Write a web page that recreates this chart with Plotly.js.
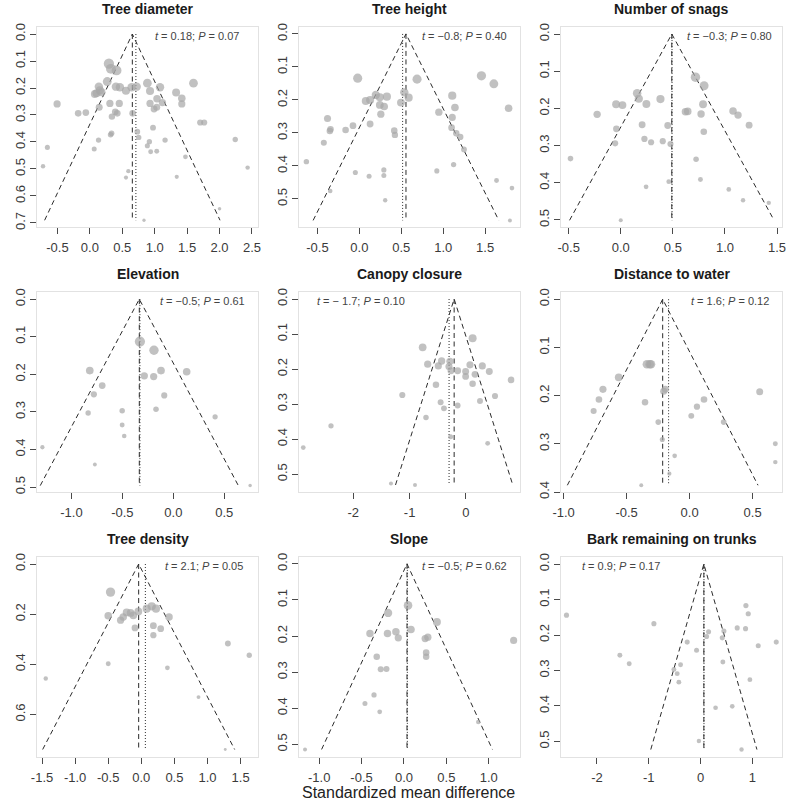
<!DOCTYPE html>
<html>
<head>
<meta charset="utf-8">
<script src="https://cdn.plot.ly/plotly-3.0.1.min.js"></script>
<style>
  html, body { margin: 0; padding: 0; background: #fff; }
  #chart { width: 787px; height: 803px; }
</style>
</head>
<body>
<div id="chart"></div>
<script>
// ---- Study-level effect sizes (standardized mean difference) and standard errors ----
const treeDiameterSMD = [0.294, 0.325, 0.412, 0.268, 0.402, 0.464, 0.557, 0.644, 0.722, 0.887, 1.082, 0.928, 1.036, 1.031, 0.990, 1.119, 1.330, 1.418, 1.418, 1.598, 1.701, 1.763, 0.928, 0.139, 0.103, 0.180, 0.077, 0.155, 0.309, 0.454, 0.144, 0.392, 0.423, 0.340, 0.335, 0.320, -0.180, -0.062, -0.505, 0.660, 0.974, 0.732, 0.753, 0.134, 0.067, -0.655, 0.918, 0.887, 0.938, 1.031, 1.160, 1.474, 2.242, 2.433, -0.722, 0.593, 0.557, 1.340, 2.000, 0.835];
const treeDiameterSE  = [0.110, 0.129, 0.135, 0.176, 0.195, 0.197, 0.210, 0.197, 0.195, 0.182, 0.197, 0.211, 0.240, 0.271, 0.278, 0.254, 0.217, 0.238, 0.259, 0.182, 0.328, 0.328, 0.257, 0.195, 0.219, 0.216, 0.222, 0.209, 0.257, 0.257, 0.271, 0.288, 0.294, 0.306, 0.368, 0.373, 0.294, 0.291, 0.259, 0.294, 0.347, 0.362, 0.383, 0.393, 0.426, 0.420, 0.399, 0.414, 0.436, 0.434, 0.393, 0.455, 0.391, 0.495, 0.490, 0.508, 0.532, 0.529, 0.647, 0.690];

const treeHeightSMD = [-0.020, 1.456, 1.604, 1.780, 0.688, 0.076, 0.128, 0.196, 0.244, 0.328, 0.244, 0.296, 0.256, 0.128, -0.076, -0.164, -0.344, -0.352, -0.380, -0.424, 0.416, 0.424, 0.536, 0.588, 0.496, 0.948, 1.108, 1.140, 1.108, 1.100, 1.156, 1.204, 1.248, -0.632, -0.048, 0.116, 0.292, 0.292, -0.348, 0.308, 0.924, 1.124, 1.636, 1.820, 1.796];
const treeHeightSE  = [0.134, 0.127, 0.151, 0.225, 0.137, 0.203, 0.200, 0.185, 0.192, 0.190, 0.215, 0.220, 0.243, 0.273, 0.278, 0.291, 0.289, 0.294, 0.256, 0.330, 0.293, 0.306, 0.177, 0.193, 0.208, 0.237, 0.187, 0.223, 0.253, 0.284, 0.301, 0.312, 0.350, 0.387, 0.420, 0.431, 0.412, 0.429, 0.476, 0.504, 0.415, 0.396, 0.444, 0.467, 0.565];

const snagsSMD = [0.717, 0.800, 0.157, 0.173, 0.381, -0.045, 0.016, 0.246, -0.227, 0.621, 0.643, 0.790, 0.771, 1.078, 1.126, 1.232, 0.205, 0.451, -0.042, 0.797, -0.054, 0.227, 0.291, 0.403, 0.477, -0.483, 0.723, 0.765, 0.461, 0.243, 1.037, 1.174, 1.421, 0.000];
const snagsSE  = [0.116, 0.139, 0.159, 0.174, 0.175, 0.189, 0.191, 0.188, 0.216, 0.209, 0.208, 0.189, 0.215, 0.207, 0.218, 0.245, 0.244, 0.246, 0.255, 0.263, 0.294, 0.282, 0.291, 0.288, 0.296, 0.335, 0.337, 0.391, 0.397, 0.411, 0.418, 0.447, 0.454, 0.501];

const elevationSMD = [-0.328, -0.190, -0.820, -0.121, 0.131, -0.285, -0.193, -0.698, -0.780, -0.089, -0.836, -0.502, -0.170, -0.502, -0.482, 0.410, -1.285, -0.770, 0.754];
const elevationSE  = [0.113, 0.136, 0.190, 0.190, 0.193, 0.204, 0.206, 0.230, 0.253, 0.256, 0.303, 0.297, 0.293, 0.335, 0.364, 0.313, 0.394, 0.440, 0.496];

const canopySMD = [-0.769, 0.118, -0.680, -0.491, -0.432, -0.284, -0.302, -0.266, -0.148, -0.006, 0.071, -0.006, 0.160, 0.290, 0.414, 0.799, -0.533, 0.118, -1.130, 0.515, 0.249, -0.450, -0.391, -0.148, -0.710, -2.396, -0.272, 0.385, -2.888, -1.331, -0.905];
const canopySE  = [0.138, 0.112, 0.186, 0.191, 0.177, 0.178, 0.193, 0.205, 0.205, 0.207, 0.188, 0.221, 0.215, 0.191, 0.207, 0.231, 0.245, 0.242, 0.274, 0.277, 0.291, 0.295, 0.312, 0.304, 0.338, 0.362, 0.393, 0.412, 0.424, 0.527, 0.531];

const waterSMD = [-0.339, -0.317, -0.307, -0.563, -0.688, -0.720, -0.762, -0.354, -0.206, -0.193, -0.249, -0.217, -0.119, -0.161, -0.384, 0.013, 0.058, 0.114, 0.270, 0.556, 0.680, 0.680];
const waterSE  = [0.135, 0.135, 0.135, 0.162, 0.187, 0.208, 0.232, 0.214, 0.191, 0.187, 0.255, 0.291, 0.325, 0.362, 0.386, 0.242, 0.223, 0.208, 0.255, 0.192, 0.300, 0.338];

const densitySMD = [-0.465, -0.500, -0.313, -0.273, -0.222, -0.162, -0.121, -0.045, 0.081, 0.157, 0.222, 0.419, -0.096, 0.182, 0.293, 0.182, 1.308, 1.631, -0.500, 0.394, -1.444, 0.864, 1.268];
const densitySE  = [0.112, 0.206, 0.224, 0.211, 0.193, 0.195, 0.205, 0.189, 0.178, 0.169, 0.178, 0.211, 0.255, 0.246, 0.258, 0.284, 0.317, 0.364, 0.398, 0.414, 0.457, 0.531, 0.740];

const slopeSMD = [0.048, -0.187, 0.389, 0.083, -0.401, -0.194, -0.095, -0.067, 0.250, 0.282, 1.294, 0.262, 0.262, -0.321, -0.274, -0.206, -0.353, -0.460, -0.286, 0.877, -1.167];
const slopeSE  = [0.115, 0.136, 0.161, 0.182, 0.193, 0.193, 0.188, 0.205, 0.207, 0.203, 0.212, 0.246, 0.257, 0.257, 0.292, 0.291, 0.363, 0.387, 0.410, 0.438, 0.514];

const barkSMD = [-2.589, -0.901, -1.558, -1.378, -0.258, -0.077, -0.515, -0.451, -0.386, -0.419, 0.116, 0.155, 0.451, 0.419, 0.431, 0.876, 0.921, 0.708, 0.869, 1.114, 1.462, 0.953, 0.290, 0.612, -0.032, 0.792];
const barkSE  = [0.144, 0.168, 0.257, 0.281, 0.220, 0.243, 0.297, 0.309, 0.284, 0.333, 0.204, 0.191, 0.189, 0.208, 0.276, 0.117, 0.140, 0.180, 0.182, 0.230, 0.220, 0.326, 0.405, 0.401, 0.499, 0.523];

// ---- Panel labels and summary results ----
const panelTitles = ['Tree diameter', 'Tree height', 'Number of snags', 'Elevation', 'Canopy closure',
                     'Distance to water', 'Tree density', 'Slope', 'Bark remaining on trunks'];
const pooledSMD   = [0.655, 0.556, 0.490, -0.334, -0.210, -0.214, -0.040, 0.036, 0.064];   // dashed line / funnel apex
const adjustedSMD = [0.710, 0.516, 0.492, -0.328, -0.300, -0.167, 0.061, 0.040, 0.066];    // dotted line
const eggerT = ['0.18', '\u22120.8', '\u22120.3', '\u22120.5', '\u2212 1.7', '1.6', '2.1', '\u22120.5', '0.9'];
const eggerP = ['0.07', '0.40', '0.80', '0.61', '0.10', '0.12', '0.05', '0.62', '0.17'];

// ---- Tick positions ----
const xTicks = [
  [-0.5, 0, 0.5, 1, 1.5, 2, 2.5],
  [-0.5, 0, 0.5, 1, 1.5],
  [-0.5, 0, 0.5, 1, 1.5],
  [-1, -0.5, 0, 0.5],
  [-2, -1, 0],
  [-1, -0.5, 0, 0.5],
  [-1.5, -1, -0.5, 0, 0.5, 1, 1.5],
  [-1, -0.5, 0, 0.5, 1],
  [-2, -1, 0, 1]
];
const yTicks = [
  [0, 0.1, 0.2, 0.3, 0.4, 0.5, 0.6, 0.7],
  [0, 0.1, 0.2, 0.3, 0.4, 0.5],
  [0, 0.1, 0.2, 0.3, 0.4, 0.5],
  [0, 0.1, 0.2, 0.3, 0.4, 0.5],
  [0, 0.1, 0.2, 0.3, 0.4, 0.5],
  [0, 0.1, 0.2, 0.3, 0.4],
  [0, 0.2, 0.4, 0.6],
  [0, 0.1, 0.2, 0.3, 0.4, 0.5],
  [0, 0.1, 0.2, 0.3, 0.4, 0.5]
];
const xTickDecimals = [1, 1, 1, 1, 0, 1, 1, 1, 0];

// ---- Drawing configuration ----
const panels = [
  { smd: treeDiameterSMD, se: treeDiameterSE, xr: [-0.815, 2.593], yr: [-0.026, 0.715], tau: 0.20, k: 2.05, stat: ['right', 241] },
  { smd: treeHeightSMD,   se: treeHeightSE,   xr: [-0.720, 1.916], yr: [-0.021, 0.585], tau: 0.23, k: 2.12, stat: ['right', 247] },
  { smd: snagsSMD,        se: snagsSE,        xr: [-0.574, 1.548], yr: [-0.019, 0.519], tau: 0.20, k: 1.89, stat: ['right', 250] },
  { smd: elevationSMD,    se: elevationSE,    xr: [-1.338, 0.831], yr: [-0.019, 0.513], tau: 0.133, k: 1.55, stat: ['right', 247] },
  { smd: canopySMD,       se: canopySE,       xr: [-2.964, 0.959], yr: [-0.020, 0.551], tau: 0.28, k: 2.10, stat: ['left', 53] },
  { smd: waterSMD,        se: waterSE,        xr: [-1.021, 0.733], yr: [-0.015, 0.400], tau: 0.13, k: 1.41, stat: ['right', 247] },
  { smd: densitySMD,      se: densitySE,      xr: [-1.576, 1.763], yr: [-0.028, 0.770], tau: 0.21, k: 1.93, stat: ['right', 245] },
  { smd: slopeSMD,        se: slopeSE,        xr: [-1.238, 1.369], yr: [-0.019, 0.535], tau: 0.236, k: 1.97, stat: ['right', 247] },
  { smd: barkSMD,         se: barkSE,         xr: [-2.695, 1.573], yr: [-0.020, 0.544], tau: 0.80, k: 3.64, stat: ['left', 56] }
];
const SIZE_SCALE = 1.15;

const W = 787, H = 803;
const CELL_W = 262, CELL_H = 265;
const BOX_L = 37, BOX_R = 258, BOX_T = 27, BOX_B = 227;
const FONT = 'Liberation Sans, Arial, Helvetica, sans-serif';
const POINT_COLOR = '#a6a6a6';
const LINE_COLOR = '#2b2b2b';

const traces = [];
const layout = {
  width: W, height: H,
  margin: { l: 0, r: 0, t: 0, b: 0 },
  paper_bgcolor: '#ffffff',
  plot_bgcolor: '#ffffff',
  showlegend: false,
  font: { family: FONT, color: '#333' },
  annotations: []
};

panels.forEach((p, i) => {
  const n = i + 1;
  const col = i % 3, row = Math.floor(i / 3);
  const x0 = col * CELL_W, y0 = row * CELL_H;
  const xa = n === 1 ? 'x' : 'x' + n;
  const ya = n === 1 ? 'y' : 'y' + n;
  const xKey = n === 1 ? 'xaxis' : 'xaxis' + n;
  const yKey = n === 1 ? 'yaxis' : 'yaxis' + n;

  const seMax = Math.max(...p.se);
  const m = pooledSMD[i];
  const half = 1.96 * seMax;

  // funnel edges (pseudo 95% confidence region)
  traces.push({
    type: 'scatter', mode: 'lines', xaxis: xa, yaxis: ya, hoverinfo: 'skip',
    x: [m - half, m, m + half], y: [seMax, 0, seMax],
    line: { color: LINE_COLOR, width: 1, dash: '5px,3.5px' }
  });
  // pooled estimate
  traces.push({
    type: 'scatter', mode: 'lines', xaxis: xa, yaxis: ya, hoverinfo: 'skip',
    x: [m, m], y: [0, seMax],
    line: { color: LINE_COLOR, width: 1, dash: '5px,3.5px' }
  });
  // adjusted estimate
  traces.push({
    type: 'scatter', mode: 'lines', xaxis: xa, yaxis: ya, hoverinfo: 'skip',
    x: [adjustedSMD[i], adjustedSMD[i]], y: [0, seMax],
    line: { color: LINE_COLOR, width: 1, dash: '1px,2px' }
  });
  // studies, sized by random-effects weight
  traces.push({
    type: 'scatter', mode: 'markers', xaxis: xa, yaxis: ya,
    x: p.smd, y: p.se,
    marker: {
      color: POINT_COLOR,
      size: p.se.map(s => SIZE_SCALE * p.k / Math.sqrt(s * s + p.tau * p.tau)),
      line: { width: 0 }
    },
    cliponaxis: false
  });

  const axisCommon = {
    showline: true, mirror: true, linecolor: '#e2e2e2', linewidth: 1,
    ticks: 'outside', ticklen: 6, tickwidth: 1, tickcolor: '#4a4a4a',
    showgrid: false, zeroline: false, fixedrange: true,
    tickfont: { family: FONT, size: 13, color: '#3a3a3a' }
  };
  layout[xKey] = Object.assign({}, axisCommon, {
    domain: [(x0 + BOX_L) / W, (x0 + BOX_R) / W],
    range: p.xr, anchor: ya,
    tickmode: 'array', tickvals: xTicks[i],
    ticktext: xTicks[i].map(v => v.toFixed(xTickDecimals[i])),
    ticklabelstandoff: 2
  });
  layout[yKey] = Object.assign({}, axisCommon, {
    domain: [1 - (y0 + BOX_B) / H, 1 - (y0 + BOX_T) / H],
    range: [p.yr[1], p.yr[0]], anchor: xa,
    tickmode: 'array', tickvals: yTicks[i],
    ticktext: yTicks[i].map(v => v.toFixed(1)),
    tickangle: -90
  });

  // panel title
  layout.annotations.push({
    xref: 'paper', yref: 'paper',
    x: (x0 + (BOX_L + BOX_R) / 2) / W, y: 1 - (y0 + 9) / H,
    xanchor: 'center', yanchor: 'middle', showarrow: false,
    text: '<b>' + panelTitles[i] + '</b>',
    font: { family: FONT, size: 14, color: '#1a1a1a' }
  });
  // Egger's regression test
  const side = p.stat[0];
  layout.annotations.push({
    xref: 'paper', yref: 'paper',
    x: (x0 + p.stat[1]) / W, y: 1 - (y0 + 36) / H,
    xanchor: side, yanchor: 'middle', showarrow: false,
    text: '<i>t</i> = ' + eggerT[i] + '; <i>P</i> = ' + eggerP[i],
    font: { family: FONT, size: 11, color: '#444' }
  });
});

// shared x-axis label
layout.annotations.push({
  xref: 'paper', yref: 'paper',
  x: 408 / W, y: 0,
  xanchor: 'center', yanchor: 'bottom', showarrow: false,
  text: 'Standardized mean difference',
  font: { family: FONT, size: 16, color: '#222' }
});

Plotly.newPlot('chart', traces, layout, { staticPlot: true, displayModeBar: false });
</script>
</body>
</html>
